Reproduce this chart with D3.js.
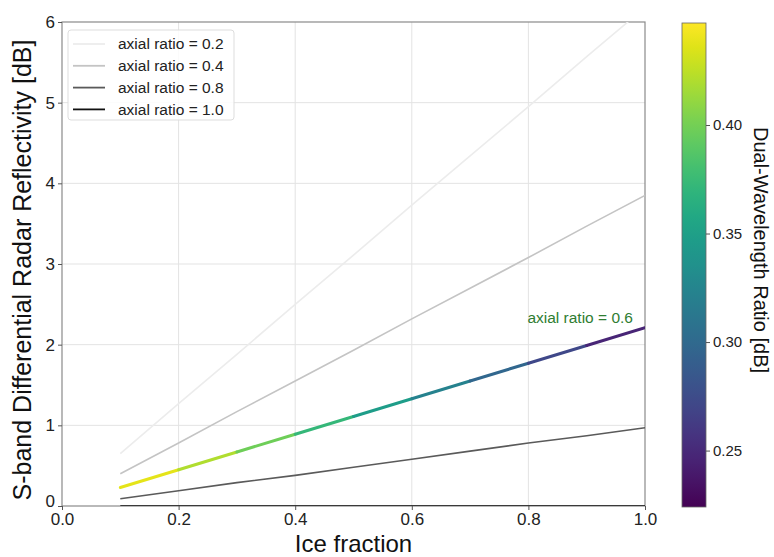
<!DOCTYPE html>
<html>
<head>
<meta charset="utf-8">
<script src="https://cdn.jsdelivr.net/npm/d3@7"></script>
<style>
	body { margin: 0; background: #fff; }
	svg { font-family: "Liberation Sans", Arial, sans-serif; }
</style>
</head>
<body>
<svg id="chart" width="774" height="557"></svg>
<script>
/* values */
const iceFraction = [0.1, 0.2, 0.3, 0.4, 0.5, 0.6, 0.7, 0.8, 0.9, 1.0];
const zdr02 = [0.65, 1.27, 1.88, 2.50, 3.11, 3.73, 4.34, 4.95, 5.57, 6.18];
const zdr04 = [0.40, 0.78, 1.17, 1.55, 1.93, 2.32, 2.70, 3.08, 3.47, 3.85];
const zdr06 = [0.23, 0.45, 0.67, 0.89, 1.11, 1.33, 1.55, 1.77, 1.99, 2.21];
const zdr08 = [0.09, 0.19, 0.29, 0.38, 0.48, 0.58, 0.68, 0.78, 0.87, 0.97];
const zdr10 = [0, 0, 0, 0, 0, 0, 0, 0, 0, 0];
const dwr06 = [0.445, 0.43, 0.41, 0.385, 0.36, 0.335, 0.31, 0.285, 0.26, 0.235];

const grayLines = [
	{ label: "axial ratio = 0.2", values: zdr02, color: "#ececec" },
	{ label: "axial ratio = 0.4", values: zdr04, color: "#c4c4c4" },
	{ label: "axial ratio = 0.8", values: zdr08, color: "#5a5a5a" },
	{ label: "axial ratio = 1.0", values: zdr10, color: "#111111" }
];

const xTicks = [0, 0.2, 0.4, 0.6, 0.8, 1.0];
const yTicks = [0, 1, 2, 3, 4, 5, 6];
const cbTicks = [0.25, 0.30, 0.35, 0.40];
const dwrDomain = [0.224, 0.447];

const svg = d3.select("#chart");
const mLeft = 62, mRight = 645, mTop = 22, mBottom = 506;

const x = d3.scaleLinear().domain([0, 1]).range([mLeft, mRight]);
const y = d3.scaleLinear().domain([0, 6]).range([mBottom, mTop]);
const color = d3.scaleSequential(d3.interpolateViridis).domain(dwrDomain);

// clip
svg.append("clipPath").attr("id", "plotclip")
	.append("rect")
	.attr("x", mLeft).attr("y", mTop)
	.attr("width", mRight - mLeft).attr("height", mBottom - mTop);

// grid
svg.append("g").selectAll("line").data(xTicks.slice(1, -1)).join("line")
	.attr("x1", d => x(d)).attr("x2", d => x(d))
	.attr("y1", mTop).attr("y2", mBottom)
	.attr("stroke", "#e3e3e3").attr("stroke-width", 1);
svg.append("g").selectAll("line").data(yTicks.slice(1, -1)).join("line")
	.attr("x1", mLeft).attr("x2", mRight)
	.attr("y1", d => y(d)).attr("y2", d => y(d))
	.attr("stroke", "#e3e3e3").attr("stroke-width", 1);

// frame
svg.append("rect")
	.attr("x", mLeft).attr("y", mTop)
	.attr("width", mRight - mLeft).attr("height", mBottom - mTop)
	.attr("fill", "none").attr("stroke", "#8a8a8a").attr("stroke-width", 1.2);

const lineGen = d3.line()
	.x((d, i) => x(iceFraction[i]))
	.y(d => y(d));

const plot = svg.append("g").attr("clip-path", "url(#plotclip)");

// gray lines
plot.selectAll("path.gray").data(grayLines).join("path")
	.attr("class", "gray")
	.attr("d", d => lineGen(d.values))
	.attr("fill", "none")
	.attr("stroke", d => d.color)
	.attr("stroke-width", 1.6);

// colored line, segment by segment
const segs = d3.range(iceFraction.length - 1);
plot.selectAll("line.seg").data(segs).join("line")
	.attr("class", "seg")
	.attr("x1", i => x(iceFraction[i])).attr("y1", i => y(zdr06[i]))
	.attr("x2", i => x(iceFraction[i + 1])).attr("y2", i => y(zdr06[i + 1]))
	.attr("stroke", i => color((dwr06[i] + dwr06[i + 1]) / 2))
	.attr("stroke-width", 3)
	.attr("stroke-linecap", "round");

// annotation
svg.append("text")
	.attr("x", x(0.8) - 1).attr("y", y(2.27))
	.attr("fill", "#2f7d32")
	.attr("font-size", "15.5px")
	.text("axial ratio = 0.6");

// axes
const xAxis = svg.append("g")
	.attr("transform", `translate(0,${mBottom})`)
	.call(d3.axisBottom(x).tickValues(xTicks).tickFormat(d3.format(".1f")).tickSize(4).tickPadding(3));
const yAxis = svg.append("g")
	.attr("transform", `translate(${mLeft},0)`)
	.call(d3.axisLeft(y).tickValues(yTicks).tickFormat(d3.format("d")).tickSize(4).tickPadding(3));
[xAxis, yAxis].forEach(a => {
	a.select(".domain").remove();
	a.selectAll(".tick line").attr("stroke", "#555");
	a.selectAll(".tick text").attr("fill", "#222").attr("font-size", "17px")
		.attr("font-family", "Liberation Sans, Arial, sans-serif");
});
// lift the y "0" a little so it clears the "0.0" below it
yAxis.selectAll(".tick text").filter(d => d === 0).attr("dy", "0.05em");

svg.append("text")
	.attr("x", (mLeft + mRight) / 2).attr("y", 552)
	.attr("text-anchor", "middle")
	.attr("font-size", "24px").attr("fill", "#111")
	.text("Ice fraction");

svg.append("text")
	.attr("transform", `translate(31,270) rotate(-90)`)
	.attr("text-anchor", "middle")
	.attr("font-size", "25px").attr("fill", "#111")
	.text("S-band Differential Radar Reflectivity [dB]");

// legend
const legend = svg.append("g");
legend.append("rect")
	.attr("x", 68).attr("y", 30).attr("width", 166).attr("height", 90)
	.attr("rx", 3)
	.attr("fill", "#fff").attr("fill-opacity", 0.85)
	.attr("stroke", "#dddddd");
const rows = legend.selectAll("g.row").data(grayLines).join("g")
	.attr("class", "row")
	.attr("transform", (d, i) => `translate(0,${44 + i * 21.8})`);
rows.append("line")
	.attr("x1", 73).attr("x2", 105)
	.attr("stroke", d => d.color).attr("stroke-width", 1.8);
rows.append("text")
	.attr("x", 118).attr("dy", "0.35em")
	.attr("font-size", "15.5px").attr("fill", "#222")
	.text(d => d.label);

// colorbar
const cbX = 682, cbW = 24, cbTop = 23, cbBottom = 507;
const cy = d3.scaleLinear().domain(dwrDomain).range([cbBottom, cbTop]);
const grad = svg.append("defs").append("linearGradient")
	.attr("id", "viridis").attr("x1", 0).attr("y1", 1).attr("x2", 0).attr("y2", 0);
grad.selectAll("stop").data(d3.range(0, 1.0001, 0.05)).join("stop")
	.attr("offset", d => d)
	.attr("stop-color", d => d3.interpolateViridis(d));
svg.append("rect")
	.attr("x", cbX).attr("y", cbTop).attr("width", cbW).attr("height", cbBottom - cbTop)
	.attr("fill", "url(#viridis)")
	.attr("stroke", "#666").attr("stroke-width", 0.8);
const cbAxis = svg.append("g")
	.attr("transform", `translate(${cbX + cbW},0)`)
	.call(d3.axisRight(cy).tickValues(cbTicks).tickFormat(d3.format(".2f")).tickSize(4).tickPadding(3));
cbAxis.select(".domain").remove();
cbAxis.selectAll(".tick line").attr("stroke", "#555");
cbAxis.selectAll(".tick text").attr("fill", "#222").attr("font-size", "15px")
	.attr("font-family", "Liberation Sans, Arial, sans-serif");

svg.append("text")
	.attr("transform", `translate(754,250) rotate(90)`)
	.attr("text-anchor", "middle")
	.attr("font-size", "20px").attr("fill", "#111")
	.text("Dual-Wavelength Ratio [dB]");
</script>
</body>
</html>
